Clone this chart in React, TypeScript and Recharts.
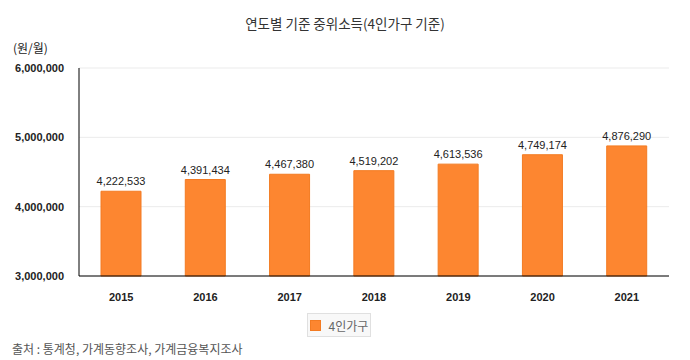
import React from 'react';
import { BarChart, Bar, XAxis, YAxis, CartesianGrid, LabelList, Legend } from 'recharts';

const years = ['2015', '2016', '2017', '2018', '2019', '2020', '2021'];
const income = [4222533, 4391434, 4467380, 4519202, 4613536, 4749174, 4876290];
const yTicks = [3000000, 4000000, 5000000, 6000000];
const seriesName = '4인가구';

const data = years.map((y, i) => ({ year: y, value: income[i] }));
const fmt = (v: number) => v.toLocaleString('en-US');

const LegendBox = () => (
  <div style={{
    display: 'flex', alignItems: 'center', justifyContent: 'center',
    width: 64, height: 24, boxSizing: 'border-box',
    border: '1px solid #e0e0e0', background: '#f8f8f8',
    fontFamily: '"Noto Sans CJK KR", sans-serif', fontSize: 12, color: '#666',
  }}>
    <span style={{ display: 'inline-block', width: 11, height: 11, background: '#fd8630', border: '1px solid #f37b22', marginRight: 8, boxSizing: 'border-box' }} />
    <span>{seriesName}</span>
  </div>
);

export default function App() {
  return (
    <div style={{ position: 'absolute', left: 0, top: 0, width: 690, height: 360, background: '#fff' }}>
      <div style={{ position: 'absolute', top: 13, left: 0, width: 690, textAlign: 'center', fontFamily: '"Noto Sans CJK KR", sans-serif', fontSize: 13.5, color: '#333' }}>
        연도별 기준 중위소득(4인가구 기준)
      </div>
      <div style={{ position: 'absolute', top: 39, left: 13, fontFamily: '"Noto Sans CJK KR", sans-serif', fontSize: 12, color: '#222' }}>
        (원/월)
      </div>
      <div style={{ position: 'absolute', top: 340, left: 12, fontFamily: '"Noto Sans CJK KR", sans-serif', fontSize: 12, color: '#555' }}>
        출처 : 통계청, 가계동향조사, 가계금융복지조사
      </div>
      <BarChart width={690} height={360} data={data} margin={{ top: 68, right: 21, bottom: 54, left: 0 }}>
        <CartesianGrid vertical={false} stroke="#ebebeb" />
        <XAxis dataKey="year" height={30} tickLine={false} tickSize={0} tickMargin={17}
          axisLine={{ stroke: '#000', strokeWidth: 1 }}
          tick={{ fill: '#222', fontSize: 11, fontWeight: 'bold', fontFamily: '"Liberation Sans", Arial, sans-serif' }} />
        <YAxis width={79} domain={[3000000, 6000000]} ticks={yTicks} tickFormatter={fmt}
          tickLine={false} tickSize={0} tickMargin={15} axisLine={{ stroke: '#000', strokeWidth: 1 }}
          tick={{ fill: '#222', fontSize: 11, fontWeight: 'bold', fontFamily: '"Liberation Sans", Arial, sans-serif' }} />
        <Legend verticalAlign="middle" align="center" content={<LegendBox />}
          wrapperStyle={{ position: 'absolute', top: 313, left: 307, width: 64 }} />
        <Bar dataKey="value" name={seriesName} fill="#fd8630" stroke="#f37b22" strokeWidth={1} barSize={40} isAnimationActive={false}>
          <LabelList dataKey="value" position="top" offset={6} formatter={(v: any) => fmt(Number(v))}
            style={{ fill: '#222', fontSize: 11, fontFamily: '"Liberation Sans", Arial, sans-serif' }} />
        </Bar>
      </BarChart>
    </div>
  );
}
